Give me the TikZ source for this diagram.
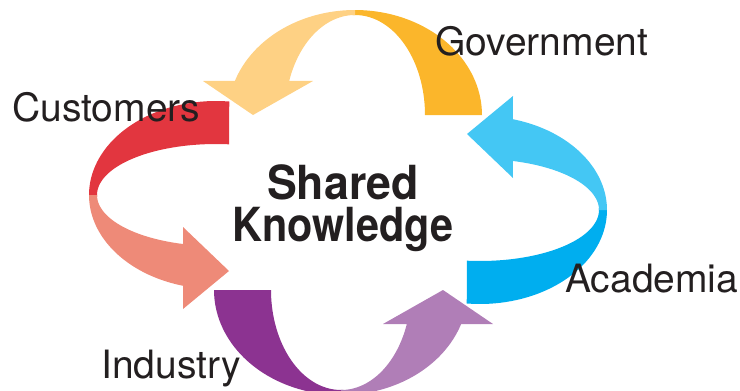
\documentclass[tikz,border=0pt]{standalone}
\usepackage{fontspec}
\usepackage{graphicx}
\setmainfont{TeX Gyre Heros}
\definecolor{topdark}{HTML}{FBB62B}
\definecolor{toplight}{HTML}{FED184}
\definecolor{rightdark}{HTML}{00AEEF}
\definecolor{rightlight}{HTML}{44C7F4}
\definecolor{botdark}{HTML}{8C3391}
\definecolor{botlight}{HTML}{B07EB7}
\definecolor{leftdark}{HTML}{E2363F}
\definecolor{leftlight}{HTML}{EE8A78}
\definecolor{ink}{HTML}{231F20}
% top arrow (flat end right, head left pointing down)
\newcommand{\ArrowTop}[2]{%
  \fill[#1] plot[domain=0:-92,samples=40] ({355+127*cos(\x)},{115+105*sin(\x)})
    -- plot[domain=-92:0,samples=40] ({355+70*cos(\x)},{115+100*sin(\x)}) -- cycle;
  \fill[#2] plot[domain=-90:-161,samples=40] ({355+127*cos(\x)},{115+105*sin(\x)})
    -- (203,81) -- (253,115) -- (313,81)
    -- plot[domain=-160:-90,samples=40] ({355+70*cos(\x)},{115+100*sin(\x)}) -- cycle;
}
% right arrow (flat end bottom left, head top pointing left)
\newcommand{\ArrowSide}[2]{%
  \fill[#1] plot[domain=96:-2,samples=40] ({480+127*cos(\x)},{210+94*sin(\x)})
    -- plot[domain=-2:96.3,samples=40] ({480+119*cos(\x)},{210+51*sin(\x)}) -- cycle;
  \fill[#2] plot[domain=0:-75,samples=40] ({480+127*cos(\x)},{210+94*sin(\x)})
    -- (513,96) -- (467,134) -- (513,178)
    -- plot[domain=-74:0,samples=40] ({480+119*cos(\x)},{210+51*sin(\x)}) -- cycle;
}
\tikzset{
  lbl/.style={anchor=base west, inner sep=0pt, text=ink, font=\fontsize{39}{39}\selectfont},
  title/.style={align=center, inner sep=0pt, text=ink, font=\bfseries\fontsize{47}{42.4}\selectfont}
}
\begin{document}
\begin{tikzpicture}[x=1pt,y=-1pt]
\useasboundingbox (0,0) rectangle (740,391);
\clip (0,0) rectangle (740,391);
\ArrowTop{topdark}{toplight}
\ArrowSide{rightdark}{rightlight}
\begin{scope}[rotate around={180:(348,202.5)}]
  \ArrowTop{botdark}{botlight}
  \ArrowSide{leftdark}{leftlight}
\end{scope}
\node[lbl] (gov) at (435,55.7) {Government};
\node[lbl] (cust) at (12,121.7) {Customers};
\node[lbl] (acad) at (565,292.3) {Academia};
\node[lbl] (ind) at (101,378) {Industry};
\node[title] (center) at (343,208.5) {\scalebox{0.95}[1]{Shared}\\\scalebox{0.88}[1]{Knowledge}};
\end{tikzpicture}
\end{document}
